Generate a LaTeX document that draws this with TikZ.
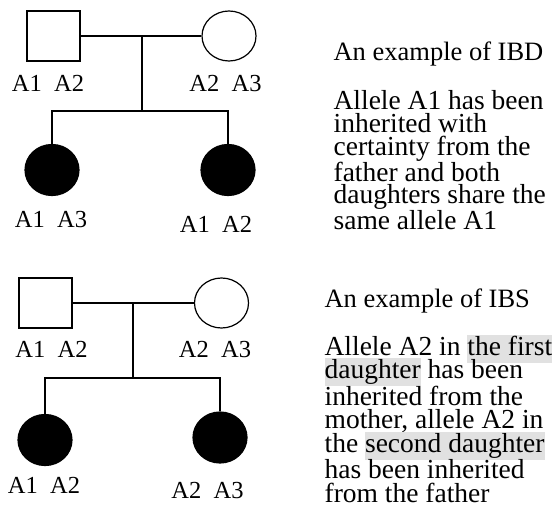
\documentclass[tikz,border=0pt]{standalone}
\usepackage{fontspec}
\setmainfont{Liberation Serif}
\usetikzlibrary{shapes.geometric}
\definecolor{hlgray}{HTML}{E1E1E1}
% shaded background behind a word group, without changing line spacing
\newcommand\hlmark[1]{\setbox0\hbox{#1}\rlap{\smash{\textcolor{hlgray}{\rule[-7pt]{\wd0}{28pt}}}}\box0}
\begin{document}
\begin{tikzpicture}[x=1pt,y=-1pt,
  line width=1.2pt,
  male/.style={draw,rectangle,minimum width=53pt,minimum height=50pt,inner sep=0pt},
  female/.style={draw,ellipse,minimum width=54pt,minimum height=50pt,inner sep=0pt},
  affected/.style={draw,fill=black,ellipse,minimum width=54pt,minimum height=51pt,inner sep=0pt},
  geno/.style={anchor=base,inner sep=0pt,font=\fontsize{24.5}{27}\selectfont},
  title/.style={anchor=base west,inner sep=0pt,font=\fontsize{26.5}{30}\selectfont},
  note/.style={anchor=base west,inner sep=0pt,align=left},
]
\useasboundingbox (0,0) rectangle (553,510);

% ---- identity by descent ----
\node[male]   (f1) at (53.5,36) {};
\node[female] (m1) at (229,36) {};
\node[affected] (d1) at (52,170) {};
\node[affected] (d2) at (228,170) {};
\coordinate (c1) at (142,36);
\coordinate (s1) at (142,111);
\draw (f1.east) -- (m1.west);
\draw (c1) -- (s1);
\draw (d1.north) |- (s1) -| (d2.north);

\node[geno] (gf1) at (48,92)    {A1\hspace{0.5em}A2};
\node[geno] (gm1) at (225.5,92) {A2\hspace{0.5em}A3};
\node[geno] (gd1) at (51,228)   {A1\hspace{0.5em}A3};
\node[geno] (gd2) at (216,233)  {A1\hspace{0.5em}A2};

\node[title] (t1) at (333,61) {An example of IBD};
% anchored at the baseline of the last line
\node[note,font=\fontsize{27.5}{22.6}\selectfont] (n1) at (333,230)
  {Allele A1 has been\\inherited with\\certainty from the\\father and both\\daughters share the\\same allele A1};

% ---- identity by state ----
\node[male]   (f2) at (45.5,303) {};
\node[female] (m2) at (221.5,303) {};
\node[affected] (d3) at (45,440) {};
\node[affected] (d4) at (220,437.5) {};
\coordinate (c2) at (133,303);
\coordinate (s2) at (133,378);
\draw (f2.east) -- (m2.west);
\draw (c2) -- (s2);
\draw (d3.north) |- (s2) -| (d4.north);

\node[geno] (gf2) at (51.5,357) {A1\hspace{0.5em}A2};
\node[geno] (gm2) at (215,357)  {A2\hspace{0.5em}A3};
\node[geno] (gd3) at (44,493)   {A1\hspace{0.5em}A2};
\node[geno] (gd4) at (207.5,498) {A2\hspace{0.5em}A3};

\node[title] (t2) at (324,307) {An example of IBS};
\node[note,font=\fontsize{27.5}{23.2}\selectfont] (n2) at (324,502)
  {Allele A2 in \hlmark{the first}\\\hlmark{daughter}\ has been\\inherited from the\\mother, allele A2 in\\the \hlmark{second daughter}\\has been inherited\\from the father};
\end{tikzpicture}
\end{document}
